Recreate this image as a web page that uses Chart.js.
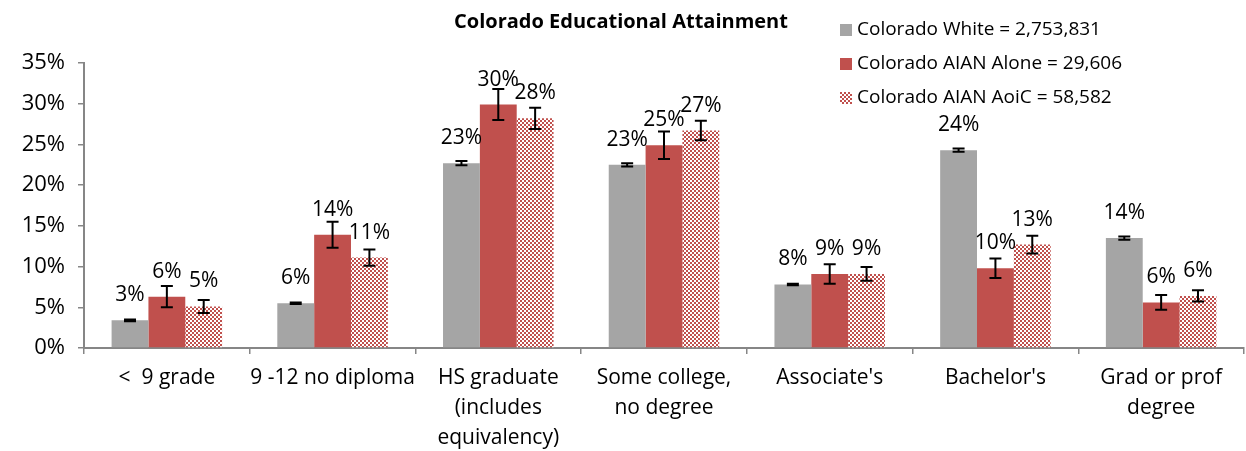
<!DOCTYPE html>
<html>
<head>
<meta charset="utf-8">
<title>Colorado Educational Attainment</title>
<script src="https://cdn.jsdelivr.net/npm/chart.js@4/dist/chart.umd.min.js"></script>
<style>
  html, body { margin: 0; padding: 0; background: #fff; }
  #wrap { width: 1246px; height: 451px; position: relative; }
</style>
</head>
<body>
<div id="wrap"><canvas id="chart" width="1246" height="451"></canvas></div>
<script>
// Data
const categories = [
    ['<  9 grade'],
    ['9 -12 no diploma'],
    ['HS graduate', '(includes', 'equivalency)'],
    ['Some college,', 'no degree'],
    ["Associate's"],
    ["Bachelor's"],
    ['Grad or prof', 'degree']
];
const seriesNames = [
    'Colorado White = 2,753,831',
    'Colorado AIAN Alone = 29,606',
    'Colorado AIAN AoiC = 58,582'
];
const whiteValues = [3.4, 5.5, 22.7, 22.5, 7.8, 24.3, 13.5];
const aloneValues = [6.3, 13.9, 29.9, 24.9, 9.1, 9.8, 5.6];
const aoicValues = [5.1, 11.1, 28.2, 26.7, 9.1, 12.7, 6.4];
const whiteErrors = [0.1, 0.1, 0.25, 0.2, 0.1, 0.2, 0.2];
const aloneErrors = [1.3, 1.6, 1.9, 1.7, 1.2, 1.2, 0.9];
const aoicErrors = [0.8, 1.0, 1.3, 1.2, 0.85, 1.1, 0.7];
const yTicks = [0, 5, 10, 15, 20, 25, 30, 35];

const FONT = '"Open Sans", sans-serif';
const grey = '#A5A5A5';
const red = '#C0504D';
const axisColor = '#868686';

// Small checkerboard fill for the AoiC series
function checkerPattern() {
    const c = document.createElement('canvas');
    c.width = 4;
    c.height = 4;
    const g = c.getContext('2d');
    g.fillStyle = '#ffffff';
    g.fillRect(0, 0, 4, 4);
    g.fillStyle = red;
    g.fillRect(0, 0, 2, 2);
    g.fillRect(2, 2, 2, 2);
    return document.getElementById('chart').getContext('2d').createPattern(c, 'repeat');
}
const checker = checkerPattern();

// Error bars + value labels
const barExtras = {
    id: 'barExtras',
    afterDatasetsDraw(chart) {
        const ctx = chart.ctx;
        const y = chart.scales.y;
        ctx.save();
        chart.data.datasets.forEach((ds, i) => {
            const meta = chart.getDatasetMeta(i);
            meta.data.forEach((bar, j) => {
                const v = ds.data[j];
                const e = ds.errors[j];
                const top = y.getPixelForValue(v + e);
                const bot = y.getPixelForValue(v - e);
                ctx.strokeStyle = '#000';
                ctx.lineWidth = 2;
                ctx.beginPath();
                ctx.moveTo(bar.x, top);
                ctx.lineTo(bar.x, bot);
                ctx.moveTo(bar.x - 6, top);
                ctx.lineTo(bar.x + 6, top);
                ctx.moveTo(bar.x - 6, bot);
                ctx.lineTo(bar.x + 6, bot);
                ctx.stroke();
            });
        });
        ctx.fillStyle = '#000';
        ctx.font = '21px ' + FONT;
        ctx.textAlign = 'center';
        ctx.textBaseline = 'middle';
        chart.data.datasets.forEach((ds, i) => {
            const meta = chart.getDatasetMeta(i);
            meta.data.forEach((bar, j) => {
                ctx.fillText(Math.round(ds.data[j]) + '%', bar.x, bar.y - 25);
            });
        });
        ctx.restore();
    }
};

// Title and legend drawn over the top of the plot, like the original
const header = {
    id: 'header',
    afterDraw(chart) {
        const ctx = chart.ctx;
        ctx.save();
        ctx.fillStyle = '#000';
        ctx.font = 'bold 20px ' + FONT;
        ctx.textAlign = 'center';
        ctx.textBaseline = 'middle';
        ctx.fillText('Colorado Educational Attainment', 621, 22);

        ctx.font = '19px ' + FONT;
        ctx.textAlign = 'left';
        chart.data.datasets.forEach((ds, i) => {
            const rowY = 30 + i * 34;
            ctx.fillStyle = ds.backgroundColor;
            ctx.fillRect(840, rowY - 6, 12, 12);
            ctx.fillStyle = '#000';
            ctx.fillText(ds.label, 857, rowY);
        });
        ctx.restore();
    }
};

new Chart(document.getElementById('chart'), {
    type: 'bar',
    data: {
        labels: categories,
        datasets: [
            { label: seriesNames[0], data: whiteValues, errors: whiteErrors, backgroundColor: grey },
            { label: seriesNames[1], data: aloneValues, errors: aloneErrors, backgroundColor: red },
            { label: seriesNames[2], data: aoicValues, errors: aoicErrors, backgroundColor: checker }
        ]
    },
    options: {
        responsive: false,
        animation: false,
        events: [],
        categoryPercentage: 0.667,
        barPercentage: 1.0,
        layout: { padding: { top: 63, right: 2, left: 0, bottom: 0 } },
        plugins: {
            legend: { display: false },
            title: { display: false },
            tooltip: { enabled: false }
        },
        scales: {
            x: {
                grid: {
                    offset: true,
                    drawOnChartArea: false,
                    drawTicks: true,
                    tickLength: 6,
                    color: axisColor,
                    lineWidth: 1.5
                },
                border: { display: true, color: axisColor, width: 2 },
                ticks: {
                    color: '#000',
                    font: { family: FONT, size: 21, lineHeight: 1.43 },
                    padding: 9,
                    maxRotation: 0,
                    autoSkip: false
                },
                afterFit(scale) { scale.height = 103; }
            },
            y: {
                min: 0,
                max: 35,
                afterBuildTicks(scale) {
                    scale.ticks = yTicks.map(v => ({ value: v }));
                },
                grid: {
                    drawOnChartArea: false,
                    drawTicks: true,
                    tickLength: 6,
                    color: axisColor,
                    lineWidth: 1.5
                },
                border: { display: true, color: axisColor, width: 2 },
                ticks: {
                    color: '#000',
                    font: { family: FONT, size: 22 },
                    padding: 13,
                    callback: v => v + '%'
                },
                afterFit(scale) { scale.width = 84; }
            }
        }
    },
    plugins: [barExtras, header]
});
</script>
</body>
</html>
